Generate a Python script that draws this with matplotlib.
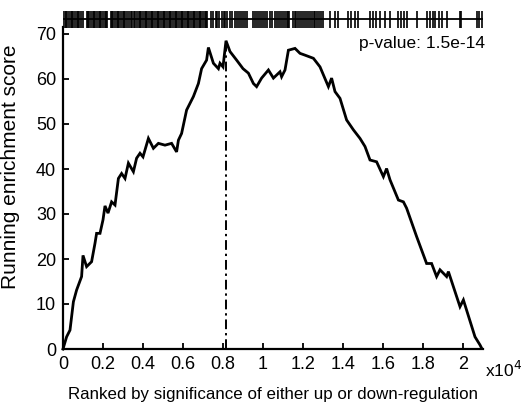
import matplotlib
matplotlib.use("Agg")
import matplotlib.pyplot as plt

plt.rcParams['font.family'] = ['Liberation Sans', 'DejaVu Sans']

# Running enrichment score curve (x in units of 1e4 ranks)
rank_x = [0.000, 0.018, 0.035, 0.052, 0.068, 0.093, 0.100, 0.118, 0.143, 0.160,
          0.168, 0.185, 0.200, 0.210, 0.225, 0.243, 0.260, 0.277, 0.293, 0.310,
          0.327, 0.352, 0.368, 0.385, 0.400, 0.427, 0.452, 0.477, 0.510, 0.543,
          0.568, 0.577, 0.593, 0.618, 0.652, 0.677, 0.693, 0.718, 0.727, 0.752,
          0.777, 0.785, 0.800, 0.815, 0.835, 0.868, 0.900, 0.927, 0.952, 0.968,
          0.993, 1.027, 1.052, 1.085, 1.093, 1.110, 1.127, 1.160, 1.185, 1.210,
          1.252, 1.285, 1.327, 1.343, 1.360, 1.385, 1.418, 1.452, 1.485, 1.510,
          1.535, 1.568, 1.602, 1.618, 1.635, 1.677, 1.702, 1.718, 1.768, 1.818,
          1.843, 1.868, 1.885, 1.918, 1.927, 1.985, 2.002, 2.060, 2.085, 2.093]
score = [0.0, 2.7, 4.2, 10.5, 13.1, 16.1, 20.8, 18.3, 19.4, 23.5,
         25.7, 25.7, 28.7, 31.8, 30.2, 32.7, 32.0, 37.9, 39.0, 37.9,
         41.3, 39.4, 42.4, 43.5, 42.7, 46.8, 44.6, 45.7, 45.3, 45.7,
         43.8, 46.4, 47.9, 53.1, 56.1, 59.0, 62.3, 64.2, 67.0, 63.5,
         62.3, 63.5, 62.7, 68.5, 66.1, 64.2, 62.3, 61.3, 59.0, 58.3,
         60.2, 62.0, 60.2, 61.6, 60.5, 62.0, 66.4, 66.8, 65.7, 65.3,
         64.6, 62.7, 58.3, 60.2, 57.2, 55.7, 50.9, 48.7, 46.8, 45.0,
         42.0, 41.6, 38.3, 40.1, 37.6, 33.1, 32.7, 31.3, 25.0, 19.0,
         19.0, 16.1, 17.6, 16.1, 17.2, 9.4, 10.9, 2.7, 0.9, 0.2]

# Positions of gene-set members in the ranked list (x in units of 1e4)
hits = [0.000, 0.008, 0.015, 0.022, 0.030, 0.038, 0.045, 0.052, 0.060, 0.068,
        0.075, 0.082, 0.090, 0.098, 0.118, 0.125, 0.132, 0.140, 0.148, 0.155,
        0.162, 0.170, 0.178, 0.185, 0.192, 0.200, 0.208, 0.215, 0.222, 0.238,
        0.245, 0.252, 0.260, 0.268, 0.275, 0.282, 0.290, 0.298, 0.305, 0.312,
        0.320, 0.330, 0.338, 0.345, 0.355, 0.362, 0.370, 0.378, 0.385, 0.392,
        0.400, 0.408, 0.415, 0.422, 0.430, 0.438, 0.445, 0.452, 0.460, 0.468,
        0.475, 0.482, 0.490, 0.498, 0.505, 0.512, 0.520, 0.528, 0.535, 0.542,
        0.550, 0.558, 0.565, 0.572, 0.580, 0.588, 0.595, 0.602, 0.610, 0.618,
        0.625, 0.632, 0.640, 0.648, 0.655, 0.662, 0.670, 0.678, 0.685, 0.692,
        0.700, 0.708, 0.715, 0.722, 0.742, 0.752, 0.765, 0.772, 0.782, 0.795,
        0.805, 0.812, 0.822, 0.835, 0.845, 0.858, 0.868, 0.880, 0.890, 0.900,
        0.912, 0.920, 0.948, 0.958, 0.968, 0.978, 0.990, 1.000, 1.012, 1.022,
        1.035, 1.045, 1.058, 1.068, 1.080, 1.092, 1.100, 1.110, 1.118, 1.125,
        1.132, 1.150, 1.158, 1.165, 1.175, 1.185, 1.195, 1.205, 1.215, 1.225,
        1.235, 1.245, 1.255, 1.262, 1.272, 1.282, 1.292, 1.300, 1.335, 1.360,
        1.375, 1.425, 1.440, 1.458, 1.475, 1.535, 1.548, 1.565, 1.585, 1.610,
        1.635, 1.675, 1.690, 1.705, 1.720, 1.770, 1.820, 1.835, 1.848, 1.860,
        1.878, 1.895, 1.918, 1.985, 1.992, 2.070, 2.080, 2.095]

xticks = [0, 0.2, 0.4, 0.6, 0.8, 1, 1.2, 1.4, 1.6, 1.8, 2]
xtick_labels = ['0', '0.2', '0.4', '0.6', '0.8', '1', '1.2', '1.4', '1.6', '1.8', '2']
yticks = [0, 10, 20, 30, 40, 50, 60, 70]
pvalue_text = 'p-value: 1.5e-14'

W, H = 521, 411
fig = plt.figure(figsize=(W / 100, H / 100), dpi=100)

x0, x1 = 63, 483
y_bot, y_top = 349, 27
ax = fig.add_axes([x0 / W, (H - y_bot) / H, (x1 - x0) / W, (y_bot - y_top) / H])
xmax = 2.1
ymax = (y_bot - y_top) / 4.5
ax.set_xlim(0, xmax)
ax.set_ylim(0, ymax)

ax.plot(rank_x, score, color='black', lw=2.0, solid_joinstyle='miter', clip_on=False)
ipk = score.index(max(score))
ax.vlines(rank_x[ipk], 0, score[ipk], colors='black', lw=1.4, linestyles=(0, (5, 2, 1.2, 2)))

for s in ['top', 'right']:
    ax.spines[s].set_visible(False)
for s in ['left', 'bottom']:
    ax.spines[s].set_linewidth(1.6)

ax.set_xticks(xticks)
ax.set_xticklabels(xtick_labels)
ax.set_yticks(yticks)
ax.tick_params(direction='in', length=4, width=1.3, labelsize=13, pad=5)
ax.set_xlabel('Ranked by significance of either up or down-regulation', fontsize=12.2, labelpad=10)
ax.set_ylabel('Running enrichment score', fontsize=15)
ax.yaxis.set_label_coords(-0.102, 0.565)

ax.text(2.11, 67.8, pvalue_text, ha='right', va='center', fontsize=12.5)
ax.text(xmax + 0.01, -0.065, 'x10$^{4}$', transform=ax.get_xaxis_transform(),
        ha='left', va='center', fontsize=12.5)

# Rug of hits
rug_top, rug_bot = 11, 28
rax = fig.add_axes([x0 / W, (H - rug_bot) / H, (x1 - x0) / W, (rug_bot - rug_top) / H])
rax.set_xlim(0, xmax)
rax.set_ylim(0, 1)
rax.vlines(hits, 0, 1, colors='black', lw=1.2)
rax.axhline(0.5, xmin=0, xmax=1, color='black', lw=1.3)
rax.axis('off')

fig.savefig('out.png', dpi=100)
